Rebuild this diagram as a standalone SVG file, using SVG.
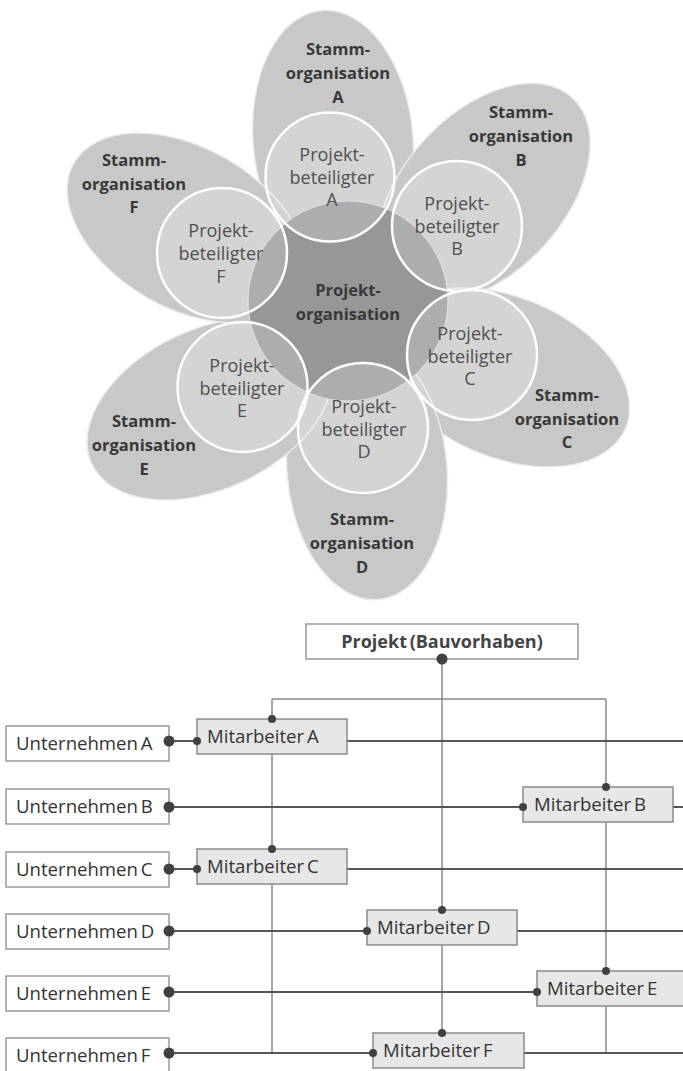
<svg xmlns="http://www.w3.org/2000/svg" width="683" height="1071" viewBox="0 0 683 1071">
  <style>
    .stamm { fill: #c8c8c8; stroke: #ececec; stroke-width: 1.5; }
    .kern { fill: #979797; stroke: #d6d6d6; stroke-width: 1.2; }
    .pb { fill: #ffffff; fill-opacity: 0.22; stroke: #ffffff; stroke-width: 2.5; }
    .tb { font-family: "Open Sans", "Noto Sans", sans-serif; font-weight: bold; font-size: 16.5px; fill: #383838; text-anchor: middle; }
    .tr { font-family: "Open Sans", "Noto Sans", sans-serif; font-size: 18px; fill: #505050; text-anchor: middle; }
    .box { fill: #ffffff; stroke: #9a9a9a; stroke-width: 1.5; }
    .mbox { fill: #e7e7e7; stroke: #8a8a8a; stroke-width: 1.5; }
    .lt { font-family: "Open Sans", "Noto Sans", sans-serif; font-size: 18.6px; fill: #333333; word-spacing: -2px; }
    .pt { font-family: "Open Sans", "Noto Sans", sans-serif; font-weight: bold; font-size: 18px; fill: #444444; text-anchor: middle; word-spacing: -2px; }
    .h { stroke: #555555; stroke-width: 1.8; fill: none; }
    .v { stroke: #8a8a8a; stroke-width: 1.5; fill: none; }
    .dot { fill: #404040; }
  </style>

  <!-- Flower: parent organisations -->
  <g id="stamm-a"><ellipse class="stamm" cx="333" cy="140" rx="130" ry="80" transform="rotate(85 333 140)"/></g>
  <g id="stamm-b"><ellipse class="stamm" cx="484" cy="193" rx="130" ry="80" transform="rotate(-47 484 193)"/></g>
  <g id="stamm-c"><ellipse class="stamm" cx="506" cy="377.5" rx="130" ry="80" transform="rotate(23 506 377.5)"/></g>
  <g id="stamm-d"><ellipse class="stamm" cx="367" cy="470" rx="130" ry="80" transform="rotate(85 367 470)"/></g>
  <g id="stamm-e"><ellipse class="stamm" cx="209.6" cy="409" rx="130" ry="80" transform="rotate(-25 209.6 409)"/></g>
  <g id="stamm-f"><ellipse class="stamm" cx="186.5" cy="228" rx="130" ry="80" transform="rotate(30 186.5 228)"/></g>

  <!-- Project organisation core -->
  <g id="projektorganisation">
    <circle class="kern" cx="348" cy="301" r="100"/>
    <text class="tb" x="348" y="296">Projekt-</text>
    <text class="tb" x="348" y="320">organisation</text>
  </g>

  <!-- Project participants -->
  <g id="beteiligter-a">
    <circle class="pb" cx="330" cy="177" r="64.5"/>
    <text class="tr" x="332" y="161">Projekt-</text>
    <text class="tr" x="332" y="184">beteiligter</text>
    <text class="tr" x="332" y="206">A</text>
  </g>
  <g id="beteiligter-b">
    <circle class="pb" cx="457" cy="226" r="65"/>
    <text class="tr" x="457" y="210">Projekt-</text>
    <text class="tr" x="457" y="233">beteiligter</text>
    <text class="tr" x="457" y="255">B</text>
  </g>
  <g id="beteiligter-c">
    <circle class="pb" cx="472" cy="355" r="65"/>
    <text class="tr" x="470" y="340">Projekt-</text>
    <text class="tr" x="470" y="363">beteiligter</text>
    <text class="tr" x="470" y="385">C</text>
  </g>
  <g id="beteiligter-d">
    <circle class="pb" cx="363" cy="428" r="65"/>
    <text class="tr" x="364" y="413">Projekt-</text>
    <text class="tr" x="364" y="436">beteiligter</text>
    <text class="tr" x="364" y="458">D</text>
  </g>
  <g id="beteiligter-e">
    <circle class="pb" cx="242.5" cy="387" r="65"/>
    <text class="tr" x="242" y="372">Projekt-</text>
    <text class="tr" x="242" y="395">beteiligter</text>
    <text class="tr" x="242" y="417">E</text>
  </g>
  <g id="beteiligter-f">
    <circle class="pb" cx="222" cy="253" r="65"/>
    <text class="tr" x="221" y="237">Projekt-</text>
    <text class="tr" x="221" y="260">beteiligter</text>
    <text class="tr" x="221" y="283">F</text>
  </g>

  <!-- Parent organisation labels -->
  <g id="stamm-labels">
    <text class="tb" x="338" y="55">Stamm-</text><text class="tb" x="338" y="79">organisation</text><text class="tb" x="338" y="103">A</text>
    <text class="tb" x="521" y="118">Stamm-</text><text class="tb" x="521" y="142">organisation</text><text class="tb" x="521" y="166">B</text>
    <text class="tb" x="567" y="401">Stamm-</text><text class="tb" x="567" y="425">organisation</text><text class="tb" x="567" y="448">C</text>
    <text class="tb" x="362" y="525">Stamm-</text><text class="tb" x="362" y="549">organisation</text><text class="tb" x="362" y="573">D</text>
    <text class="tb" x="144" y="427">Stamm-</text><text class="tb" x="144" y="451">organisation</text><text class="tb" x="144" y="475">E</text>
    <text class="tb" x="134" y="166">Stamm-</text><text class="tb" x="134" y="190">organisation</text><text class="tb" x="134" y="213">F</text>
  </g>

  <!-- Network connectors -->
  <g id="connectors">
    <path class="v" d="M442 659 V1033 M272 699 H606 M272 699 V1053 M606 699 V1053"/>
    <path class="h" d="M169 741 H197 M347 741 H683"/>
    <path class="h" d="M169 807 H523 M673 807 H683"/>
    <path class="h" d="M169 869 H197 M347 869 H683"/>
    <path class="h" d="M169 931 H367 M517 931 H683"/>
    <path class="h" d="M169 992 H537"/>
    <path class="h" d="M169 1053 H373 M524 1053 H683"/>
  </g>

  <!-- Project -->
  <g id="projekt">
    <rect class="box" x="306" y="624" width="272" height="35"/>
    <text class="pt" x="442" y="648">Projekt (Bauvorhaben)</text>
    <circle class="dot" cx="442" cy="659" r="5.5"/>
  </g>

  <!-- Companies -->
  <g id="unternehmen-a"><rect class="box" x="6" y="726" width="163" height="35"/><text class="lt" x="16" y="750">Unternehmen A</text><circle class="dot" cx="169" cy="741" r="5.5"/></g>
  <g id="unternehmen-b"><rect class="box" x="6" y="789" width="163" height="35"/><text class="lt" x="16" y="813">Unternehmen B</text><circle class="dot" cx="169" cy="807" r="5.5"/></g>
  <g id="unternehmen-c"><rect class="box" x="6" y="852" width="163" height="35"/><text class="lt" x="16" y="876">Unternehmen C</text><circle class="dot" cx="169" cy="869" r="5.5"/></g>
  <g id="unternehmen-d"><rect class="box" x="6" y="914" width="163" height="35"/><text class="lt" x="16" y="938">Unternehmen D</text><circle class="dot" cx="169" cy="931" r="5.5"/></g>
  <g id="unternehmen-e"><rect class="box" x="6" y="976" width="163" height="35"/><text class="lt" x="16" y="1000">Unternehmen E</text><circle class="dot" cx="169" cy="992" r="5.5"/></g>
  <g id="unternehmen-f"><rect class="box" x="6" y="1038" width="163" height="40"/><text class="lt" x="16" y="1062">Unternehmen F</text><circle class="dot" cx="169" cy="1053" r="5.5"/></g>

  <!-- Staff -->
  <g id="mitarbeiter-a"><rect class="mbox" x="197" y="719" width="150" height="35"/><text class="lt" x="207" y="743">Mitarbeiter A</text><circle class="dot" cx="272" cy="719" r="4"/><circle class="dot" cx="197" cy="741" r="4"/></g>
  <g id="mitarbeiter-b"><rect class="mbox" x="523" y="787" width="150" height="35"/><text class="lt" x="534" y="811">Mitarbeiter B</text><circle class="dot" cx="606" cy="787" r="4"/><circle class="dot" cx="523" cy="807" r="4"/></g>
  <g id="mitarbeiter-c"><rect class="mbox" x="197" y="849" width="150" height="35"/><text class="lt" x="207" y="873">Mitarbeiter C</text><circle class="dot" cx="272" cy="849" r="4"/><circle class="dot" cx="197" cy="869" r="4"/></g>
  <g id="mitarbeiter-d"><rect class="mbox" x="367" y="910" width="150" height="35"/><text class="lt" x="377" y="934">Mitarbeiter D</text><circle class="dot" cx="442" cy="910" r="4"/><circle class="dot" cx="367" cy="931" r="4"/></g>
  <g id="mitarbeiter-e"><rect class="mbox" x="537" y="971" width="152" height="35"/><text class="lt" x="547" y="995">Mitarbeiter E</text><circle class="dot" cx="606" cy="971" r="4"/><circle class="dot" cx="537" cy="992" r="4"/></g>
  <g id="mitarbeiter-f"><rect class="mbox" x="373" y="1033" width="151" height="35"/><text class="lt" x="383" y="1057">Mitarbeiter F</text><circle class="dot" cx="442" cy="1033" r="4"/><circle class="dot" cx="373" cy="1053" r="4"/></g>
</svg>
